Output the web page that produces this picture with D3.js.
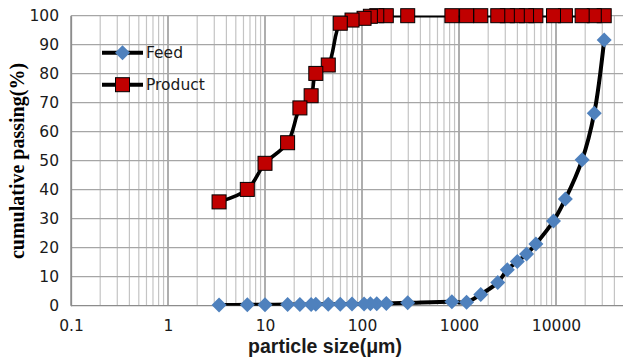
<!DOCTYPE html>
<html>
<head>
<meta charset="utf-8">
<script src="https://cdnjs.cloudflare.com/ajax/libs/d3/7.8.5/d3.min.js"></script>
<style>
  body { margin: 0; background: #fff; }
  #svg-1 { display: block; }
</style>
</head>
<body>
<svg id="svg-1" width="623" height="361"></svg>
<script>
// particle sizes (um) shared by both series
const sizes = [3.36, 6.57, 10, 17.1, 22.9, 29.9, 33.4, 44.9, 59.7, 78.9, 105, 122, 142, 178, 296,
  845, 1197, 1676, 2510, 3150, 3990, 4970, 6200, 9420, 12500, 18600, 24800, 31400];
const feed = [0.2, 0.3, 0.3, 0.4, 0.4, 0.4, 0.5, 0.5, 0.5, 0.6, 0.6, 0.7, 0.7, 0.8, 1.0,
  1.4, 1.2, 3.9, 8.0, 12.4, 15.2, 17.8, 21.3, 29.2, 36.8, 50.3, 66.4, 91.6];
const product = [35.8, 40.1, 49.1, 56.2, 68.2, 72.4, 80.1, 83.0, 97.4, 98.5, 99.1, 99.8, 100, 100, 100,
  100, 100, 100, 100, 100, 100, 100, 100, 100, 100, 100, 100, 100];
const xTicks = [0.1, 1, 10, 100, 1000, 10000];
const xTickLabels = ["0.1", "1", "10", "100", "1000", "10000"];
const yTicks = [0, 10, 20, 30, 40, 50, 60, 70, 80, 90, 100];
const seriesNames = ["Feed", "Product"];

const margin = { top: 15.7, left: 71 },
  width = 582,      // plot runs on past the crop, up to 100000
  height = 290;

const x = d3.scaleLog().domain([0.1, 100000]).range([0, width]);
const y = d3.scaleLinear().domain([0, 100]).range([height, 0]);

const svg = d3.select("#svg-1")
  .append("g")
  .attr("transform", "translate(" + margin.left + "," + margin.top + ")");

svg.append("defs").append("clipPath")
  .attr("id", "plotClip")
  .append("rect")
  .attr("x", 0).attr("y", 0)
  .attr("width", width).attr("height", height);

// vertical grid: minor then decades
const isDecade = d => Math.abs(Math.log10(d) - Math.round(Math.log10(d))) < 1e-6;
svg.append("g")
  .selectAll("line")
  .data(x.ticks().filter(d => !isDecade(d)))
  .enter().append("line")
  .attr("x1", d => x(d)).attr("x2", d => x(d))
  .attr("y1", 0).attr("y2", height)
  .attr("stroke", "#c4c4c4").attr("stroke-width", 1.2);

svg.append("g")
  .selectAll("line")
  .data(x.ticks().filter(isDecade))
  .enter().append("line")
  .attr("x1", d => x(d)).attr("x2", d => x(d))
  .attr("y1", 0).attr("y2", height)
  .attr("stroke", "#8c8c8c").attr("stroke-width", 1.4);

// horizontal grid
svg.append("g")
  .selectAll("line")
  .data(yTicks)
  .enter().append("line")
  .attr("x1", 0).attr("x2", width)
  .attr("y1", d => y(d)).attr("y2", d => y(d))
  .attr("stroke", d => d === 0 ? "#8c8c8c" : "#a6a6a6")
  .attr("stroke-width", 1.3);

// axes
const xAxis = svg.append("g")
  .attr("transform", "translate(0," + height + ")")
  .call(d3.axisBottom(x).tickValues(xTicks).tickFormat((d, i) => xTickLabels[i]).tickSize(0).tickPadding(14));
xAxis.select(".domain").remove();

const yAxis = svg.append("g")
  .call(d3.axisLeft(y).tickValues(yTicks).tickSize(0).tickPadding(12));
yAxis.select(".domain").attr("stroke", "#8c8c8c").attr("stroke-width", 1.3);

svg.selectAll(".tick text")
  .style("font-family", "'DejaVu Sans', sans-serif")
  .style("font-size", "15.5px")
  .attr("fill", "#1a1a1a");

// lines
const line = d3.line()
  .x((d, i) => x(sizes[i]))
  .y(d => y(d))
  .curve(d3.curveCatmullRom.alpha(0.5));

const lines = svg.append("g").attr("clip-path", "url(#plotClip)");
lines.append("path")
  .datum(feed)
  .attr("d", line)
  .attr("fill", "none")
  .attr("stroke", "#000")
  .attr("stroke-width", 4);
lines.append("path")
  .datum(product)
  .attr("d", line)
  .attr("fill", "none")
  .attr("stroke", "#000")
  .attr("stroke-width", 3.6);

// markers, earlier points on top
const idx = d3.range(sizes.length).reverse();
const diamond = "M0,-7.5L7.5,0L0,7.5L-7.5,0Z";

svg.append("g")
  .selectAll("path")
  .data(idx)
  .enter().append("path")
  .attr("d", diamond)
  .attr("transform", i => "translate(" + x(sizes[i]) + "," + y(feed[i]) + ")")
  .attr("fill", "#4f81bd");

svg.append("g")
  .selectAll("rect")
  .data(idx)
  .enter().append("rect")
  .attr("x", i => x(sizes[i]) - 7)
  .attr("y", i => y(product[i]) - 7)
  .attr("width", 14).attr("height", 14)
  .attr("fill", "#c00000")
  .attr("stroke", "#000")
  .attr("stroke-width", 1);

// legend
const legend = svg.append("g").attr("transform", "translate(31,37)");
seriesNames.forEach(function(name, i) {
  const g = legend.append("g").attr("transform", "translate(0," + (i * 32) + ")");
  g.append("line")
    .attr("x1", 0).attr("x2", 41)
    .attr("stroke", "#000").attr("stroke-width", 4);
  if (i === 0) {
    g.append("path").attr("d", diamond).attr("transform", "translate(20.5,0)").attr("fill", "#4f81bd");
  } else {
    g.append("rect").attr("x", 13.5).attr("y", -7).attr("width", 14).attr("height", 14)
      .attr("fill", "#c00000").attr("stroke", "#000");
  }
  g.append("text")
    .attr("x", 44).attr("y", 5.5)
    .style("font-family", "'DejaVu Sans', sans-serif")
    .style("font-size", "15.5px")
    .attr("fill", "#1a1a1a")
    .text(name);
});

// axis titles
svg.append("text")
  .attr("x", 254).attr("y", height + 47)
  .style("text-anchor", "middle")
  .style("font-family", "'Liberation Sans', sans-serif")
  .style("font-weight", "bold")
  .style("font-size", "19.5px")
  .attr("fill", "#1a1a1a")
  .text("particle size(\u03bcm)");

svg.append("text")
  .attr("transform", "rotate(-90)")
  .attr("x", -(161 - margin.top))
  .attr("y", -47.5)
  .style("text-anchor", "middle")
  .style("font-family", "'Liberation Serif', serif")
  .style("font-weight", "bold")
  .style("font-size", "20px")
  .attr("fill", "#000")
  .text("cumulative passing(%)");
</script>
</body>
</html>
